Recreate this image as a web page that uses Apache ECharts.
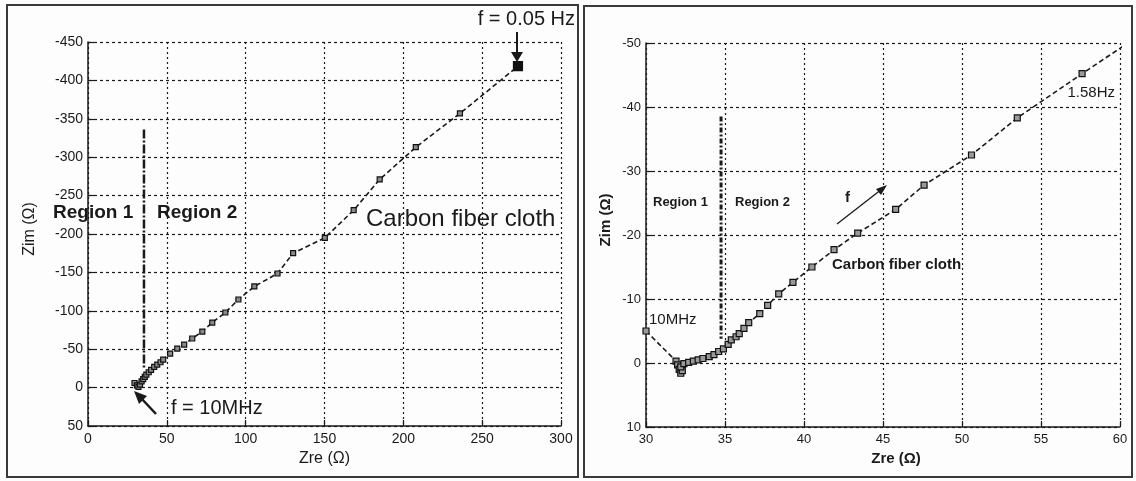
<!DOCTYPE html>
<html><head><meta charset="utf-8">
<script src="https://cdn.jsdelivr.net/npm/echarts@6/dist/echarts.min.js"></script>
<style>html,body{margin:0;padding:0;background:#fdfdfd}#c{width:1136px;height:481px}</style>
</head><body><div id="c"></div>
<script>
// ---- Left panel data (Zre, Zim in ohm) ----
const leftZre = [29.5, 31, 32, 33, 34, 35, 36, 37, 38.5, 40, 42, 43.9, 46, 47.7, 52.1, 56.6, 61, 66.1, 72.5, 78.8, 87.1, 95.4, 105.5, 120.2, 130.1, 150.2, 168.5, 185, 207.9, 235.9, 272.7];
const leftZim = [-6, -3, -1, -4, -8, -11, -14, -17, -20, -23, -27, -30, -33, -36.5, -44.3, -50.8, -56, -63.9, -73, -84.7, -97.8, -114.7, -131.7, -148.6, -175, -195, -231, -271, -313, -357, -418.5];
// ---- Right panel data (zoom of the high-frequency part) ----
const rightZre = [30, 31.9, 32, 32.1, 32.2, 32.3, 32.2, 32.4, 32.7, 33.0, 33.3, 33.6, 34.0, 34.3, 34.6, 34.9, 35.2, 35.4, 35.7, 35.9, 36.2, 36.5, 37.2, 37.7, 38.4, 39.3, 40.5, 41.9, 43.4, 45.8, 47.6, 50.6, 53.5, 57.6, 62];
const rightZim = [-5, -0.3, 0.3, 1.0, 1.6, 1.2, 0.6, 0.1, -0.1, -0.3, -0.5, -0.7, -1.0, -1.3, -1.8, -2.2, -2.9, -3.6, -4.1, -4.6, -5.4, -6.3, -7.7, -9.0, -10.8, -12.6, -15, -17.7, -20.3, -24, -27.8, -32.5, -38.3, -45.2, -52.5];
// Region 1 / Region 2 boundary lines
const leftBoundaryZre = [35.5, 35.5];
const leftBoundaryZim = [-336, -25];
const rightBoundaryZre = [34.75, 34.75];
const rightBoundaryZim = [-38.5, -3.8];

const pairs = (xs, ys) => xs.map((x, i) => [x, ys[i]]);
const FONT = "'Liberation Sans', Arial, sans-serif";
const INK = '#1a1a1a';

const chart = echarts.init(document.getElementById('c'), null, {renderer: 'canvas'});

function xAxis(gi, min, max, interval, name, bold, gapOff) {
  return {
    type: 'value', gridIndex: gi, min, max, interval,
    name, nameLocation: 'middle', nameGap: 22,
    nameTextStyle: {fontFamily: FONT, fontSize: bold ? 15 : 16, fontWeight: bold ? 'bold' : 'normal', color: INK, padding: gapOff},
    axisLine: {show: true, onZero: false, lineStyle: {color: INK, width: 1.5}},
    axisTick: {show: true, inside: true, length: 6, lineStyle: {color: INK, width: 1.2}},
    axisLabel: {fontFamily: FONT, fontSize: bold ? 13 : 14, color: INK, margin: 6},
    splitLine: {show: true, lineStyle: {color: INK, type: [2, 3], width: 1.2}}
  };
}
function yAxis(gi, min, max, interval, name, bold, gap, pad) {
  return {
    type: 'value', gridIndex: gi, min, max, interval, inverse: true,
    name, nameLocation: 'middle', nameGap: gap,
    nameTextStyle: {fontFamily: FONT, fontSize: bold ? 15 : 16, fontWeight: bold ? 'bold' : 'normal', color: INK, padding: pad},
    axisLine: {show: true, onZero: false, lineStyle: {color: INK, width: 1.5}},
    axisTick: {show: true, inside: true, length: 6, lineStyle: {color: INK, width: 1.2}},
    axisLabel: {fontFamily: FONT, fontSize: bold ? 13 : 14, color: INK, margin: 5},
    splitLine: {show: true, lineStyle: {color: INK, type: [3, 3], width: 1.2}}
  };
}

const leftData = pairs(leftZre, leftZim).map((p, i, a) =>
  i === a.length - 1 ? {value: p, symbolSize: 9, itemStyle: {color: '#111'}} : p);

chart.setOption({
  backgroundColor: '#fdfdfd',
  animation: false,
  grid: [
    {left: 88, top: 42, width: 473, height: 384},
    {left: 646, top: 43, width: 474, height: 384}
  ],
  xAxis: [
    xAxis(0, 0, 300, 50, 'Zre (\u03A9)', false, [0, 0, 0, 0]),
    xAxis(1, 30, 60, 5, 'Zre (\u03A9)', true, [0, 0, 0, 26])
  ],
  yAxis: [
    yAxis(0, -450, 50, 50, 'Zim (\u03A9)', false, 50, [0, 0, 0, 10]),
    yAxis(1, -50, 10, 10, 'Zim (\u03A9)', true, 33, [0, 0, 0, 30])
  ],
  series: [
    {type: 'line', xAxisIndex: 0, yAxisIndex: 0, data: leftData,
     symbol: 'rect', symbolSize: 5, clip: true,
     lineStyle: {color: INK, width: 1.6, type: [5, 3]},
     itemStyle: {color: '#8a8a8a', borderColor: '#111', borderWidth: 1.2}},
    {type: 'line', xAxisIndex: 1, yAxisIndex: 1, data: pairs(rightZre, rightZim),
     symbol: 'rect', symbolSize: 6, clip: true,
     lineStyle: {color: INK, width: 1.6, type: [5, 3]},
     itemStyle: {color: '#9a9a9a', borderColor: '#111', borderWidth: 1.2}},
    {type: 'line', xAxisIndex: 0, yAxisIndex: 0, data: pairs(leftBoundaryZre, leftBoundaryZim),
     symbol: 'none', lineStyle: {color: INK, width: 2.5, type: [9, 2, 2, 2]}},
    {type: 'line', xAxisIndex: 1, yAxisIndex: 1, data: pairs(rightBoundaryZre, rightBoundaryZim),
     symbol: 'none', lineStyle: {color: INK, width: 3, type: [5, 2, 2, 2]}}
  ],
  graphic: [
    // panel frames
    {type: 'rect', shape: {x: 7, y: 5, width: 571, height: 472}, style: {fill: 'none', stroke: '#3a3a3a', lineWidth: 2}, z: 100},
    {type: 'rect', shape: {x: 584, y: 6, width: 548, height: 471}, style: {fill: 'none', stroke: '#3a3a3a', lineWidth: 2}, z: 100},
    // left annotations
    {type: 'text', x: 53, y: 213, style: {text: 'Region 1', font: 'bold 19px ' + FONT, fill: INK, verticalAlign: 'middle'}, z: 50},
    {type: 'text', x: 157, y: 213, style: {text: 'Region 2', font: 'bold 19px ' + FONT, fill: INK, verticalAlign: 'middle'}, z: 50},
    {type: 'text', x: 366, y: 219, style: {text: 'Carbon fiber cloth', font: '24px ' + FONT, fill: INK, verticalAlign: 'middle'}, z: 50},
    {type: 'text', x: 575, y: 19, style: {text: 'f = 0.05 Hz', font: '20px ' + FONT, fill: INK, align: 'right', verticalAlign: 'middle'}, z: 50},
    {type: 'line', shape: {x1: 517, y1: 32, x2: 517, y2: 54}, style: {stroke: INK, lineWidth: 2}, z: 50},
    {type: 'polygon', shape: {points: [[511, 52], [523, 52], [517, 62]]}, style: {fill: INK}, z: 50},
    {type: 'text', x: 171, y: 408, style: {text: 'f = 10MHz', font: '20px ' + FONT, fill: INK, verticalAlign: 'middle'}, z: 50},
    {type: 'line', shape: {x1: 156, y1: 414, x2: 141, y2: 398}, style: {stroke: INK, lineWidth: 2.5}, z: 50},
    {type: 'polygon', shape: {points: [[134, 391], [147, 396], [139, 404]]}, style: {fill: INK}, z: 50},
    // right annotations
    {type: 'text', x: 653, y: 202, style: {text: 'Region 1', font: 'bold 13px ' + FONT, fill: INK, verticalAlign: 'middle'}, z: 50},
    {type: 'text', x: 735, y: 202, style: {text: 'Region 2', font: 'bold 13px ' + FONT, fill: INK, verticalAlign: 'middle'}, z: 50},
    {type: 'text', x: 845, y: 198, style: {text: 'f', font: 'bold 15px ' + FONT, fill: INK, verticalAlign: 'middle'}, z: 50},
    {type: 'line', shape: {x1: 837, y1: 224, x2: 882, y2: 189}, style: {stroke: INK, lineWidth: 1.3}, z: 50},
    {type: 'polygon', shape: {points: [[887, 185], [876, 189], [881, 195]]}, style: {fill: INK}, z: 50},
    {type: 'text', x: 832, y: 265, style: {text: 'Carbon fiber cloth', font: 'bold 15px ' + FONT, fill: INK, verticalAlign: 'middle'}, z: 50},
    {type: 'text', x: 649, y: 320, style: {text: '10MHz', font: '15px ' + FONT, fill: INK, verticalAlign: 'middle'}, z: 50},
    {type: 'text', x: 1115, y: 93, style: {text: '1.58Hz', font: '15px ' + FONT, fill: INK, align: 'right', verticalAlign: 'middle'}, z: 50}
  ]
});
</script>
</body></html>
